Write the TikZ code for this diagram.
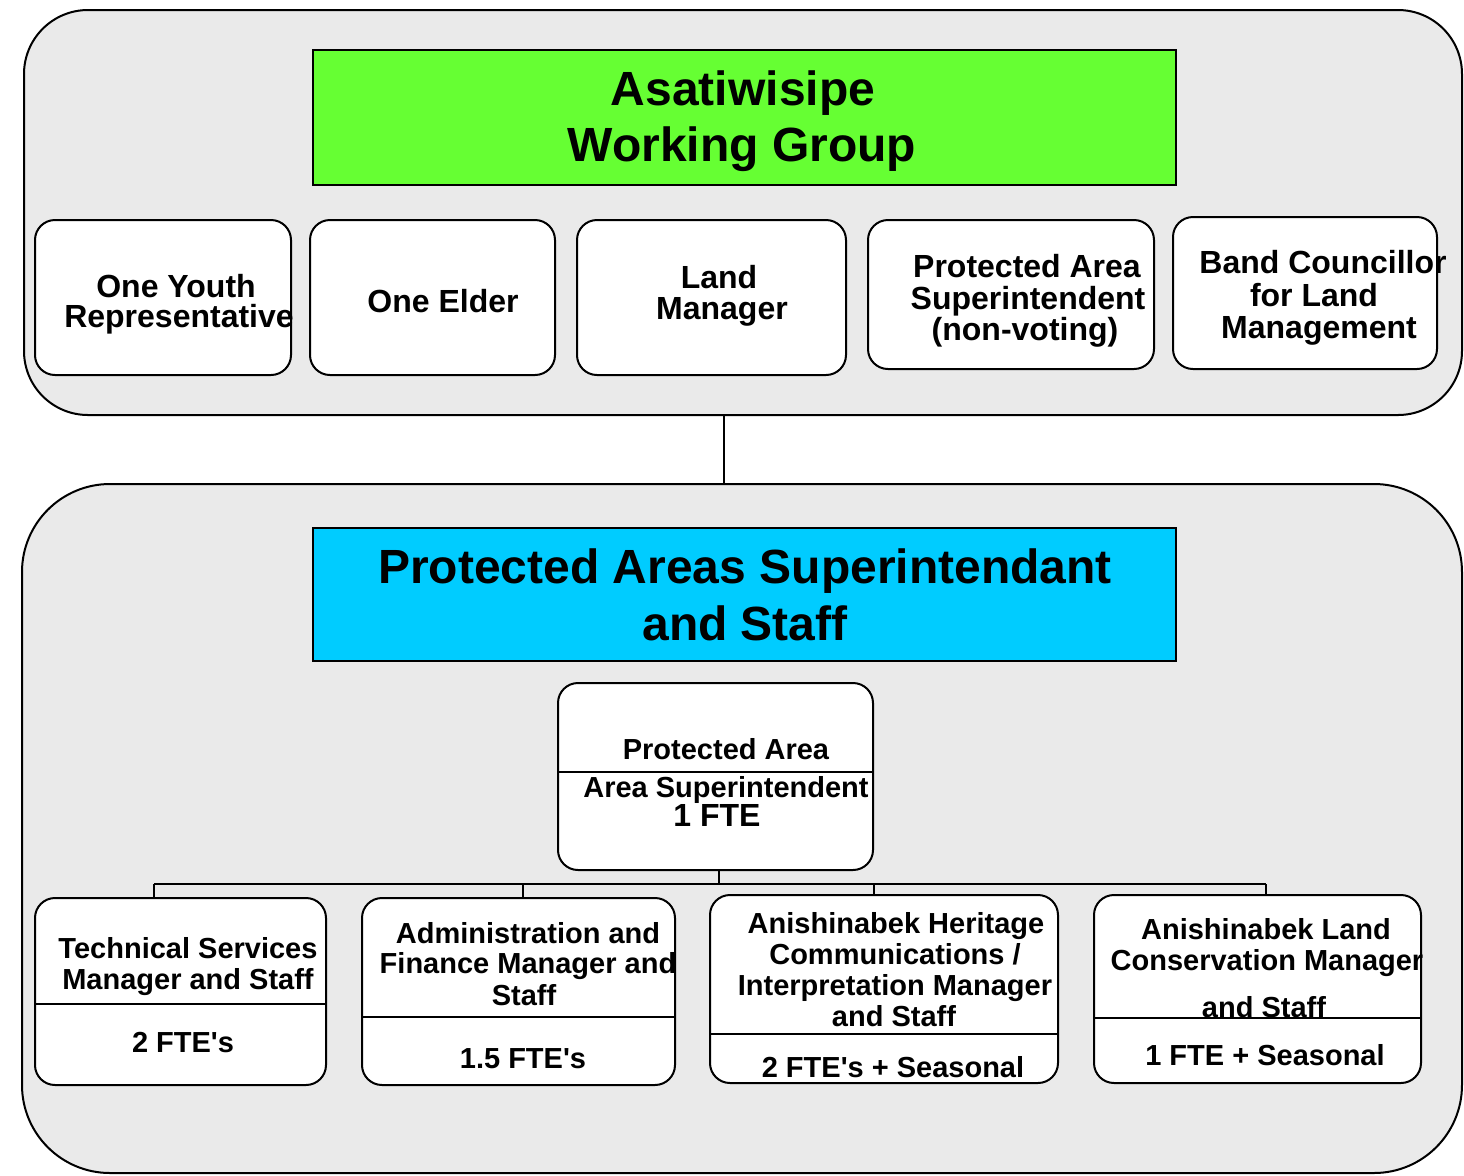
\documentclass[tikz,border=0pt]{standalone}
\usepackage{fontspec}
\setmainfont{Liberation Sans}
\usetikzlibrary{fit}
\definecolor{cont}{HTML}{EAEAEA}
\definecolor{grn}{HTML}{66FF33}
\definecolor{blu}{HTML}{00CCFF}
\tikzset{
  px/.style={x=0.5pt,y=-0.5pt},
  container/.style={draw=black, line width=1pt, fill=cont, inner sep=0pt, rectangle},
  titlebox/.style={draw=black, line width=0.8pt, inner sep=0pt, rectangle},
  box/.style={draw=black, line width=1pt, fill=white, rounded corners=10pt, inner sep=0pt, rectangle},
  big/.style={font=\bfseries\fontsize{24}{28}\selectfont, anchor=base, inner sep=0pt},
  mid/.style={font=\bfseries\fontsize{16}{16}\selectfont, anchor=base, inner sep=0pt},
  sml/.style={font=\bfseries\fontsize{14.5}{14.5}\selectfont, anchor=base, inner sep=0pt},
  conn/.style={draw=black, line width=0.75pt},
  divline/.style={draw=black, line width=1pt},
}
\begin{document}
\begin{tikzpicture}[px]
\path[use as bounding box, fill=white] (0,0) rectangle (1464,1175);
% containers
\node[container, rounded corners=32pt, fit={(24,10) (1462,415)}] (topc) {};
\node[container, rounded corners=44pt, fit={(22,484) (1462,1173)}] (botc) {};
% titles
\node[titlebox, fill=grn, fit={(313,50) (1176,185)}] (wg) {};
\node[big] (wg1) at (743,105) {Asatiwisipe};
\node[big] (wg2) at (742,161) {Working Group};
\node[titlebox, fill=blu, fit={(313,528) (1176,661)}] (pa) {};
\node[big] (pa1) at (745,583) {Protected Areas Superintendant};
\node[big] (pa2) at (745,640) {and Staff};
% top boxes
\node[box, fit={(35,220) (291,375)}] (youth) {};
\node[mid] (y1) at (176,297) {One Youth};
\node[mid] (y2) at (179,327) {Representative};
\node[box, fit={(310,220) (555,375)}] (elder) {};
\node[mid] (e1) at (443,312) {One Elder};
\node[box, fit={(577,220) (846,375)}] (landm) {};
\node[mid] (l1) at (719,288) {Land};
\node[mid] (l2) at (722,319) {Manager};
\node[box, fit={(868,220) (1154,369)}] (pas) {};
\node[mid] (s1) at (1027,277) {Protected Area};
\node[mid] (s2) at (1028,309) {Superintendent};
\node[mid] (s3) at (1025,340) {(non-voting)};
\node[box, fit={(1173,217) (1437,369)}] (band) {};
\node[mid] (b1) at (1323,273) {Band Councillor};
\node[mid] (b2) at (1314,306) {for Land};
\node[mid] (b3) at (1319,338) {Management};
% superintendent box
\node[box, fit={(558,683) (873,870)}] (pasup) {};
\coordinate (ya) at (0,772);
\draw[divline] (pasup.west |- ya) -- (pasup.east |- ya);
\node[sml] (p1) at (726,759) {Protected Area};
\node[sml] (p2) at (726,797) {Area Superintendent};
\node[mid] (p3) at (717,826) {1 FTE};
% bottom boxes
\node[box, fit={(35,898) (326,1085)}] (tech) {};
\coordinate (yt) at (0,1004);
\draw[divline] (tech.west |- yt) -- (tech.east |- yt);
\node[sml] (t1) at (188,958) {Technical Services};
\node[sml] (t2) at (188,989) {Manager and Staff};
\node[sml] (t3) at (183,1052) {2 FTE\textquotesingle s};
\node[box, fit={(362,898) (675,1085)}] (admin) {};
\coordinate (yad) at (0,1017);
\draw[divline] (admin.west |- yad) -- (admin.east |- yad);
\node[sml] (a1) at (528,943) {Administration and};
\node[sml] (a2) at (528,973) {Finance Manager and};
\node[sml] (a3) at (524,1005) {Staff};
\node[sml] (a4) at (523,1068) {1.5 FTE\textquotesingle s};
\node[box, fit={(710,895) (1058,1083)}] (herit) {};
\coordinate (yh) at (0,1034);
\draw[divline] (herit.west |- yh) -- (herit.east |- yh);
\node[sml] (h1) at (896,933) {Anishinabek Heritage};
\node[sml] (h2) at (895,964) {Communications /};
\node[sml] (h3) at (895,995) {Interpretation Manager};
\node[sml] (h4) at (894,1026) {and Staff};
\node[sml] (h5) at (893,1077) {2 FTE\textquotesingle s + Seasonal};
\node[box, fit={(1094,895) (1421,1083)}] (landc) {};
\coordinate (yl) at (0,1018);
\draw[divline] (landc.west |- yl) -- (landc.east |- yl);
\node[sml] (c1) at (1266,939) {Anishinabek Land};
\node[sml] (c2) at (1267,970) {Conservation Manager};
\node[sml] (c3) at (1264,1017) {and Staff};
\node[sml] (c4) at (1265,1065) {1 FTE + Seasonal};
% connectors
\coordinate (k) at (724,0);
\draw[conn] (topc.south -| k) -- (botc.north -| k);
\coordinate (d0) at (719,884);
\coordinate (d1) at (154,884);
\coordinate (d2) at (523,884);
\coordinate (d3) at (874,884);
\coordinate (d4) at (1266,884);
\draw[conn] (pasup.south -| d0) -- (d0);
\draw[conn] (d1) -- (d4);
\draw[conn] (d1) -- (tech.north -| d1);
\draw[conn] (d2) -- (admin.north -| d2);
\draw[conn] (d3) -- (herit.north -| d3);
\draw[conn] (d4) -- (landc.north -| d4);
\end{tikzpicture}
\end{document}
